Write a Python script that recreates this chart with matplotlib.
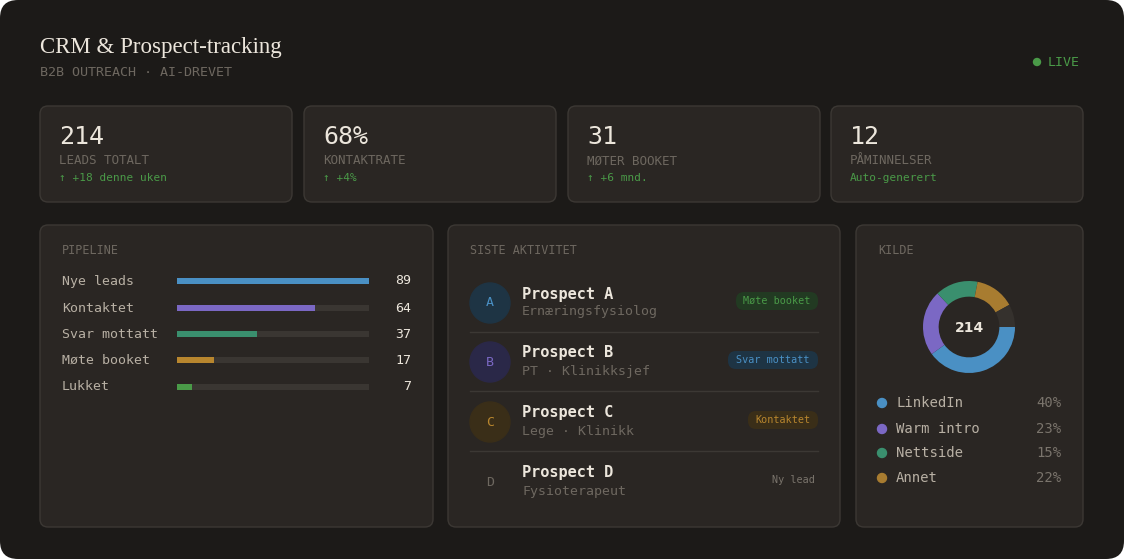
import matplotlib
matplotlib.use("Agg")
import matplotlib.pyplot as plt
from matplotlib.patches import FancyBboxPatch, Circle

# ---- data ----
title = "CRM & Prospect-tracking"
subtitle = "B2B OUTREACH · AI-DREVET"
kpi_values = ["214", "68%", "31", "12"]
kpi_labels = ["LEADS TOTALT", "KONTAKTRATE", "MØTER BOOKET", "PÅMINNELSER"]
kpi_notes = ["↑ +18 denne uken", "↑ +4%", "↑ +6 mnd.", "Auto-generert"]
pipe_stages = ["Nye leads", "Kontaktet", "Svar mottatt", "Møte booket", "Lukket"]
pipe_counts = [89, 64, 37, 17, 7]
pipe_colors = ["#4a90c4", "#7b68c4", "#3a8f6e", "#b8862e", "#4a9a48"]
act_letters = ["A", "B", "C", "D"]
act_names = ["Prospect A", "Prospect B", "Prospect C", "Prospect D"]
act_roles = ["Ernæringsfysiolog", "PT · Klinikksjef", "Lege · Klinikk", "Fysioterapeut"]
act_status = ["Møte booket", "Svar mottatt", "Kontaktet", "Ny lead"]
src_labels = ["LinkedIn", "Warm intro", "Nettside", "Annet"]
src_pcts = [40, 23, 15, 22]
donut_vals = [40, 23, 15, 14, 8]
donut_colors = ["#4a90c4", "#7b68c4", "#3a8f6e", "#a87c30", "#35312d"]
src_colors = ["#4a90c4", "#7b68c4", "#3a8f6e", "#a87c30"]

MONO = "DejaVu Sans Mono"
W, H = 1124, 559
fig = plt.figure(figsize=(W/100, H/100), dpi=100)
fig.patch.set_facecolor("white")
ax = fig.add_axes([0, 0, 1, 1])
ax.set_xlim(0, W); ax.set_ylim(H, 0); ax.axis("off")

def rbox(x0, y0, x1, y1, fc, ec="none", r=8, lw=1, z=1):
    ax.add_patch(FancyBboxPatch((x0+r, y0+r), x1-x0-2*r, y1-y0-2*r,
                 boxstyle=f"round,pad={r}", fc=fc, ec=ec, lw=lw, zorder=z))

rbox(0, 0, W, H, "#1c1a18", r=18, z=0)
ax.text(40, 47, title, family="Liberation Serif", fontsize=16.5, color="#ece6dc", va="center")
ax.text(40, 72, subtitle, family=MONO, fontsize=9.6, color="#6e6860", va="center")
ax.add_patch(Circle((1037, 62), 3.5, color="#4a9a48"))
ax.text(1048, 62, "LIVE", family=MONO, fontsize=9.5, color="#4a9a48", va="center")

CARD, EDGE = "#2a2623", "#3c3834"
kx = [(40, 292), (304, 556), (568, 820), (831, 1083)]
for (x0, x1), v, l, n in zip(kx, kpi_values, kpi_labels, kpi_notes):
    rbox(x0, 106, x1, 202, CARD, EDGE)
    ax.text(x0+19, 137, v, family=MONO, fontsize=18, color="#ece6dc", va="center")
    ax.text(x0+19, 161, l, family=MONO, fontsize=9, color="#6e6860", va="center")
    ax.text(x0+19, 178, n, family=MONO, fontsize=8, color="#4a9a48", va="center")

for x0, x1 in [(40, 433), (448, 840), (856, 1083)]:
    rbox(x0, 225, x1, 527, CARD, EDGE)
ax.text(62, 251, "PIPELINE", family=MONO, fontsize=8.5, color="#6e6860", va="center")
ax.text(470, 251, "SISTE AKTIVITET", family=MONO, fontsize=8.5, color="#6e6860", va="center")
ax.text(878, 251, "KILDE", family=MONO, fontsize=8.5, color="#6e6860", va="center")

# pipeline
ys = [281, 308, 334, 360, 387]
bax = fig.add_axes([177/W, 1-400/H, (369-177)/W, (400-268)/H])
bax.set_xlim(0, max(pipe_counts)); bax.set_ylim(400, 268); bax.axis("off")
bax.barh(ys, [max(pipe_counts)]*5, height=6, color="#3a3632")
bax.barh(ys, pipe_counts, height=6, color=pipe_colors)
for y, s, c in zip(ys, pipe_stages, pipe_counts):
    ax.text(62, y, s, family=MONO, fontsize=9.5, color="#b8b0a4", va="center")
    ax.text(411, y, str(c), family=MONO, fontsize=9.5, color="#ece6dc", va="center", ha="right")

# activity
ay = [303, 362, 422, 482]
circ_fc = ["#1e3444", "#2a2848", "#3a2e18", "none"]
circ_tc = ["#4a90c4", "#7b68c4", "#b8862e", "#6e6860"]
badge_fc = ["#223a22", "#1e3444", "#3a2e18", "none"]
badge_tc = ["#4a9a48", "#4a90c4", "#b8862e", "#7a746c"]
badge_w = [82, 90, 70, 50]
for i, y in enumerate(ay):
    if circ_fc[i] != "none":
        ax.add_patch(Circle((490, y), 20, color=circ_fc[i]))
    ax.text(490, y, act_letters[i], family=MONO, fontsize=9.5, color=circ_tc[i], ha="center", va="center")
    ax.text(522, y-9, act_names[i], family=MONO, fontsize=11, weight="bold", color="#ece6dc", va="center")
    ax.text(522, y+9, act_roles[i], family=MONO, fontsize=9.5, color="#6e6860", va="center")
    bx1 = 818; bx0 = bx1 - badge_w[i]
    if badge_fc[i] != "none":
        rbox(bx0, y-11, bx1, y+7, badge_fc[i], r=8, z=2)
    ax.text((bx0+bx1)/2, y-2, act_status[i], family=MONO, fontsize=7.3, color=badge_tc[i], ha="center", va="center", zorder=3)
    if i < 3:
        ax.plot([470, 818], [y+29, y+29], color="#3c3834", lw=1)

# donut
R = 46
dax = fig.add_axes([(969-R)/W, 1-(327+R)/H, 2*R/W, 2*R/H])
dax.pie(donut_vals, colors=donut_colors, startangle=0, counterclock=False,
        wedgeprops=dict(width=0.34, edgecolor="none"), radius=1)
dax.set_xlim(-1, 1); dax.set_ylim(-1, 1)
ax.text(969, 328, "214", family="DejaVu Sans", fontsize=10, weight="bold", color="#ece6dc", ha="center", va="center")
for y, l, p, c in zip([403, 429, 453, 478], src_labels, src_pcts, src_colors):
    ax.add_patch(Circle((882, y), 4.5, color=c))
    ax.text(896, y, l, family=MONO, fontsize=10, color="#b8b0a4", va="center")
    ax.text(1061, y, f"{p}%", family=MONO, fontsize=10, color="#7a746c", va="center", ha="right")

fig.savefig("out.png", dpi=100, facecolor="white")
